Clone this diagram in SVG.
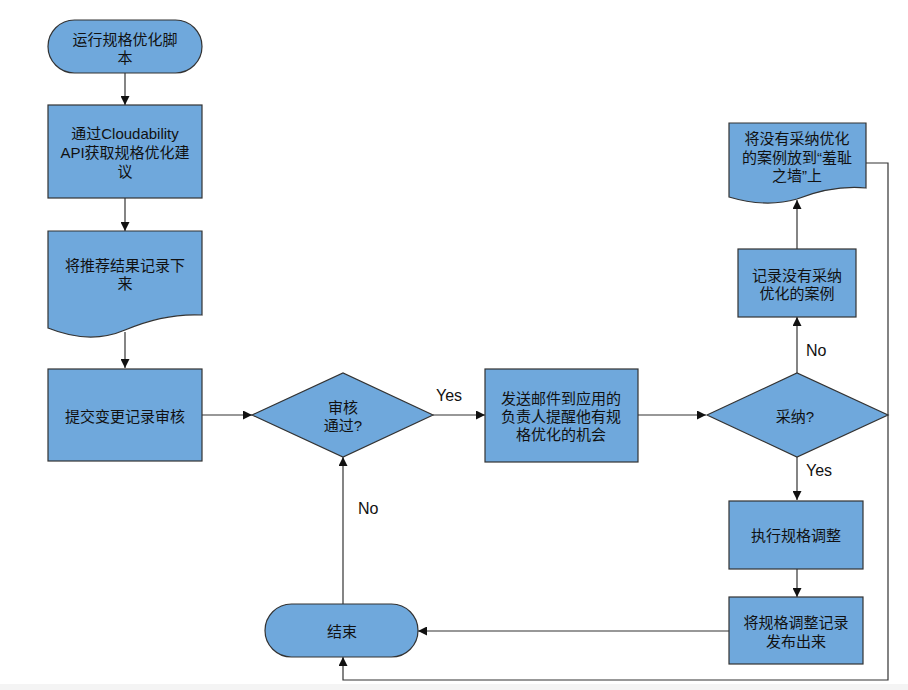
<svg xmlns="http://www.w3.org/2000/svg" width="908" height="690" viewBox="0 0 908 690">
<defs>
<style>
.n{fill:#6fa8dc;stroke:#333;stroke-width:1.2}
.t{font-family:"Liberation Sans","Noto Sans CJK SC",sans-serif;font-size:15px;fill:#111;text-anchor:middle;dominant-baseline:central}
.l{font-family:"Liberation Sans","Noto Sans CJK SC",sans-serif;font-size:16px;fill:#111}
.c{fill:none;stroke:#333;stroke-width:1.2}
</style>
<marker id="a" viewBox="0 0 10 10" refX="10" refY="5" markerWidth="9" markerHeight="9" markerUnits="userSpaceOnUse" orient="auto"><path d="M0,0 L10,5 L0,10 Z" fill="#111"/></marker>
</defs>
<rect width="908" height="690" fill="#fff"/>
<rect y="684" width="908" height="6" fill="#f4f4f4"/>
<g id="connectors">
<path class="c" d="M125,73 V105" marker-end="url(#a)"/>
<path class="c" d="M125,198 V231" marker-end="url(#a)"/>
<path class="c" d="M125,332 V368" marker-end="url(#a)"/>
<path class="c" d="M202,415 H252" marker-end="url(#a)"/>
<path class="c" d="M433,415 H485" marker-end="url(#a)"/>
<path class="c" d="M638,415 H706" marker-end="url(#a)"/>
<path class="c" d="M797,457 V500" marker-end="url(#a)"/>
<path class="c" d="M797,569 V597" marker-end="url(#a)"/>
<path class="c" d="M729,631 H418" marker-end="url(#a)"/>
<path class="c" d="M343,604 V457" marker-end="url(#a)"/>
<path class="c" d="M797,373 V317" marker-end="url(#a)"/>
<path class="c" d="M797,249 V200" marker-end="url(#a)"/>
<path class="c" d="M866,163 H888 V680 H343 V657" marker-end="url(#a)"/>
<text class="l" x="436" y="401">Yes</text>
<text class="l" x="358" y="514">No</text>
<text class="l" x="806" y="356">No</text>
<text class="l" x="806" y="476">Yes</text>
</g>
<g id="start">
<rect class="n" x="48" y="20" width="154" height="53" rx="26.5"/>
<text class="t" x="125" y="39">运行规格优化脚</text>
<text class="t" x="125" y="57">本</text>
</g>
<g id="fetch">
<rect class="n" x="48" y="105" width="154" height="93"/>
<text class="t" x="125" y="133">通过Cloudability</text>
<text class="t" x="125" y="152">API获取规格优化建</text>
<text class="t" x="125" y="171">议</text>
</g>
<g id="record">
<path class="n" d="M48,231 H202 V315 Q165,313 125,330 Q90,345 48,328 Z"/>
<text class="t" x="125" y="265">将推荐结果记录下</text>
<text class="t" x="125" y="283">来</text>
</g>
<g id="submit">
<rect class="n" x="48" y="369" width="154" height="92"/>
<text class="t" x="125" y="416">提交变更记录审核</text>
</g>
<g id="review">
<path class="n" d="M252,415 L343,373 L433,415 L343,457 Z"/>
<text class="t" x="343" y="407">审核</text>
<text class="t" x="343" y="425">通过?</text>
</g>
<g id="email">
<rect class="n" x="485" y="369" width="153" height="93"/>
<text class="t" x="561" y="398">发送邮件到应用的</text>
<text class="t" x="561" y="416">负责人提醒他有规</text>
<text class="t" x="561" y="434">格优化的机会</text>
</g>
<g id="adopt">
<path class="n" d="M707,415 L797,373 L888,415 L797,457 Z"/>
<text class="t" x="795" y="416">采纳?</text>
</g>
<g id="logno">
<rect class="n" x="738" y="249" width="118" height="68"/>
<text class="t" x="797" y="275">记录没有采纳</text>
<text class="t" x="797" y="293">优化的案例</text>
</g>
<g id="shame">
<path class="n" d="M729,123 H866 V188 Q833,185 797,199 Q766,208 729,197 Z"/>
<text class="t" x="797" y="138">将没有采纳优化</text>
<text class="t" x="797" y="157">的案例放到“羞耻</text>
<text class="t" x="797" y="175">之墙”上</text>
</g>
<g id="execute">
<rect class="n" x="729" y="501" width="134" height="68"/>
<text class="t" x="796" y="535">执行规格调整</text>
</g>
<g id="publish">
<rect class="n" x="729" y="597" width="134" height="67"/>
<text class="t" x="796" y="622">将规格调整记录</text>
<text class="t" x="796" y="641">发布出来</text>
</g>
<g id="end">
<rect class="n" x="265" y="604" width="153" height="53" rx="26.5"/>
<text class="t" x="342" y="631">结束</text>
</g>
</svg>
